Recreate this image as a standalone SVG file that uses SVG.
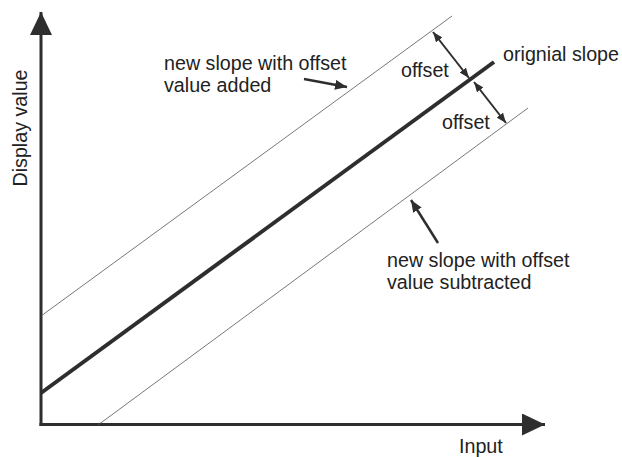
<svg xmlns="http://www.w3.org/2000/svg" width="622" height="457" viewBox="0 0 622 457">
  <style>
    .t { font-family: "Liberation Sans", Arial, sans-serif; font-size: 19.7px; fill: #222; }
    .axis { stroke: #2e2e2e; stroke-width: 3; fill: none; }
    .thick { stroke: #2e2e2e; stroke-width: 4; fill: none; stroke-linecap: butt; }
    .thin { stroke: #555; stroke-width: 0.8; fill: none; }
    .dim { stroke: #2e2e2e; stroke-width: 2; fill: none; }
    .ptr { stroke: #2e2e2e; stroke-width: 2.5; fill: none; }
  </style>
  <defs>
    <marker id="axisHead" markerUnits="userSpaceOnUse" markerWidth="23" markerHeight="22" viewBox="0 0 23 22" refX="23" refY="11" orient="auto">
      <path d="M0,0 L23,11 L0,22 Z" fill="#2e2e2e"/>
    </marker>
    <marker id="smallHead" markerUnits="userSpaceOnUse" markerWidth="10" markerHeight="8" viewBox="0 0 10 8" refX="10" refY="4" orient="auto-start-reverse">
      <path d="M0,0 L10,4 L0,8 Z" fill="#2e2e2e"/>
    </marker>
    <marker id="ptrHead" markerUnits="userSpaceOnUse" markerWidth="12" markerHeight="10" viewBox="0 0 12 10" refX="12" refY="5" orient="auto">
      <path d="M0,0 L12,5 L0,10 Z" fill="#2e2e2e"/>
    </marker>
  </defs>
  <rect width="622" height="457" fill="#fff"/>

  <g id="axes">
    <line class="axis" x1="41" y1="426" x2="41" y2="12" marker-end="url(#axisHead)"/>
    <line class="axis" x1="39.5" y1="424.5" x2="545" y2="424.5" marker-end="url(#axisHead)"/>
    <text class="t" x="459" y="453">Input</text>
    <text class="t" text-anchor="middle" transform="translate(27,128) rotate(-90)">Display value</text>
  </g>

  <g id="slopes">
    <line class="thin" x1="41" y1="316" x2="452" y2="16"/>
    <line class="thick" x1="41" y1="393" x2="494" y2="62"/>
    <line class="thin" x1="98" y1="425" x2="528" y2="108"/>
  </g>

  <g id="connectors">
    <line class="dim" x1="433" y1="32" x2="469" y2="78" marker-start="url(#smallHead)" marker-end="url(#smallHead)"/>
    <line class="dim" x1="474" y1="82" x2="506" y2="123" marker-start="url(#smallHead)" marker-end="url(#smallHead)"/>
    <line class="ptr" x1="304" y1="79" x2="347" y2="87" marker-end="url(#ptrHead)"/>
    <line class="ptr" x1="438" y1="243" x2="411" y2="200" marker-end="url(#ptrHead)"/>
  </g>

  <g id="label-original">
    <text class="t" x="503" y="61">orignial slope</text>
  </g>
  <g id="label-offset-upper">
    <text class="t" x="401" y="77">offset</text>
  </g>
  <g id="label-offset-lower">
    <text class="t" x="442" y="129">offset</text>
  </g>
  <g id="label-added">
    <text class="t" x="164" y="70">new slope with offset</text>
    <text class="t" x="164" y="92">value added</text>
  </g>
  <g id="label-subtracted">
    <text class="t" x="387" y="267">new slope with offset</text>
    <text class="t" x="387" y="289">value subtracted</text>
  </g>
</svg>
